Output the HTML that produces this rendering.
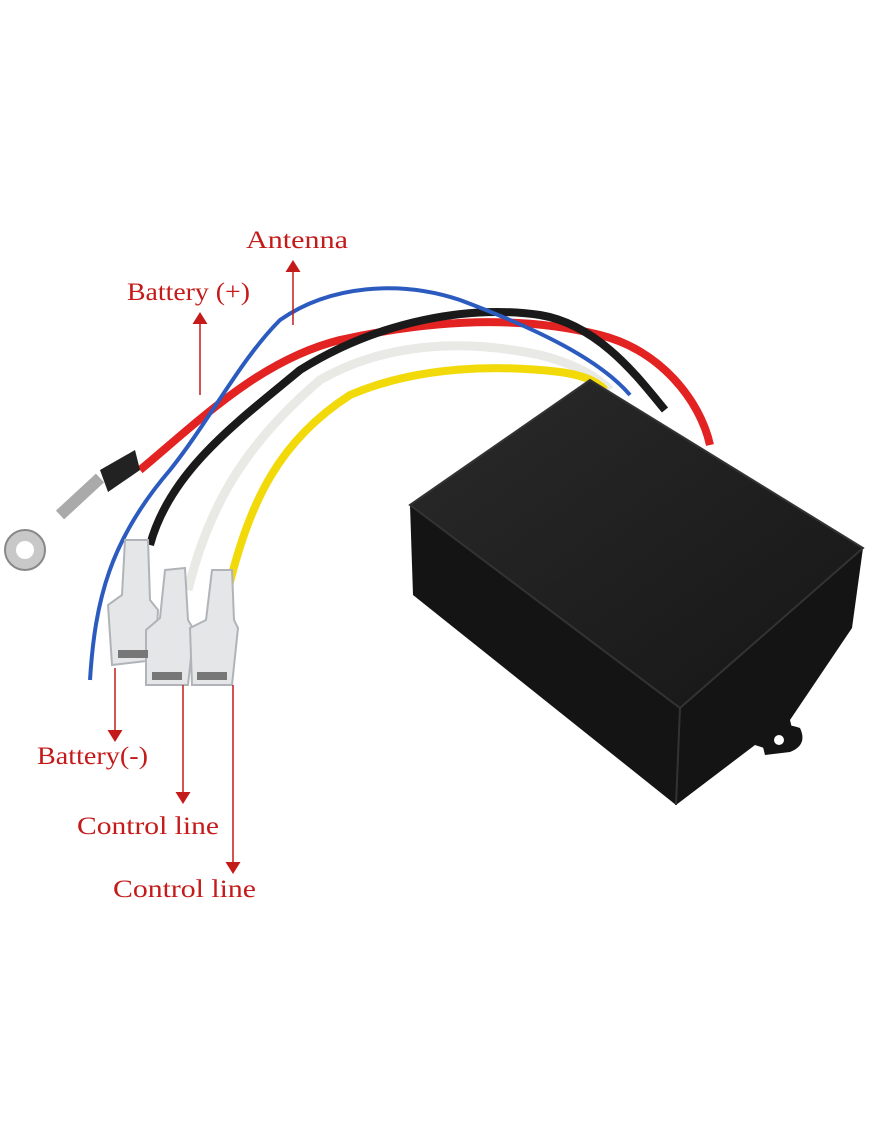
<!DOCTYPE html>
<html><head><meta charset="utf-8"><style>
html,body{margin:0;padding:0;background:#fff}
svg{display:block}
text{font-family:"Liberation Serif",serif;fill:#c41a1a;font-size:25px}
</style></head><body>
<svg width="870" height="1131" viewBox="0 0 870 1131">
<defs>
<marker id="a" markerWidth="8" markerHeight="10" refX="4" refY="5" orient="auto"><path d="M0,0 L8,5 L0,10 z" fill="#c41a1a"/></marker>
<linearGradient id="top" x1="0" y1="0" x2="1" y2="1"><stop offset="0" stop-color="#2a2a2a"/><stop offset="1" stop-color="#161616"/></linearGradient>
</defs>
<path d="M140,470 C200,420 260,360 340,340 C430,320 520,315 600,335 C660,350 700,400 710,445" stroke="#e32222" stroke-width="8" fill="none"/>
<path d="M150,545 C170,470 240,420 300,370 C380,320 470,305 540,315 C600,325 640,380 665,410" stroke="#1a1a1a" stroke-width="8" fill="none"/>
<path d="M188,590 C210,500 250,440 320,380 C390,340 470,340 540,355 C580,365 600,380 610,390" stroke="#e9e9e6" stroke-width="9" fill="none"/>
<path d="M228,590 C250,500 280,440 350,395 C420,365 500,365 560,372 C590,376 600,385 605,390" stroke="#f2da0a" stroke-width="8" fill="none"/>
<path d="M90,680 C95,600 110,540 170,470 C210,420 240,360 280,320 C330,285 400,280 460,300 C540,330 600,360 630,395" stroke="#2c5bc0" stroke-width="4" fill="none"/>
<path d="M100,470 L135,450 L140,470 L108,492 z" fill="#222"/>
<path d="M100,478 L60,515" stroke="#aaa" stroke-width="12"/>
<circle cx="25" cy="550" r="20" fill="#c8c8c8" stroke="#888" stroke-width="2"/>
<circle cx="25" cy="550" r="9" fill="#fff"/>
<g fill="#e4e6e8" stroke="#b0b4b8" stroke-width="2">
<path d="M125,540 L148,540 L150,600 L158,610 L155,660 L112,665 L108,605 L122,595 z"/>
<path d="M165,570 L185,568 L188,620 L194,630 L188,685 L146,685 L146,630 L160,618 z"/>
<path d="M212,570 L232,570 L234,620 L238,628 L232,685 L192,685 L190,628 L206,620 z"/>
</g>
<g fill="#777"><rect x="118" y="650" width="30" height="8"/><rect x="152" y="672" width="30" height="8"/><rect x="197" y="672" width="30" height="8"/></g>
<path d="M410,505 L590,380 L863,548 L852,628 L790,720 L795,740 L770,750 L755,745 L676,805 L413,595 z" fill="#141414"/>
<path d="M410,505 L590,380 L863,548 L680,708 z" fill="url(#top)" stroke="#333" stroke-width="2"/>
<path d="M680,708 L676,805" stroke="#333" stroke-width="2"/>
<path d="M760,735 Q780,720 800,728 Q808,745 790,752 L765,755 z" fill="#141414"/>
<circle cx="779" cy="740" r="5" fill="#fff"/>
<text x="246" y="248" textLength="102" lengthAdjust="spacingAndGlyphs">Antenna</text>
<text x="127" y="300" textLength="123" lengthAdjust="spacingAndGlyphs">Battery (+)</text>
<text x="37" y="764" textLength="111" lengthAdjust="spacingAndGlyphs">Battery(-)</text>
<text x="77" y="834" textLength="142" lengthAdjust="spacingAndGlyphs">Control line</text>
<text x="113" y="897" textLength="143" lengthAdjust="spacingAndGlyphs">Control line</text>
<g stroke="#c41a1a" stroke-width="1.5" fill="none">
<path d="M293,325 L293,266" marker-end="url(#a)"/>
<path d="M200,395 L200,318" marker-end="url(#a)"/>
<path d="M115,668 L115,736" marker-end="url(#a)"/>
<path d="M183,685 L183,798" marker-end="url(#a)"/>
<path d="M233,685 L233,868" marker-end="url(#a)"/>
</g>
</svg>
</body></html>
